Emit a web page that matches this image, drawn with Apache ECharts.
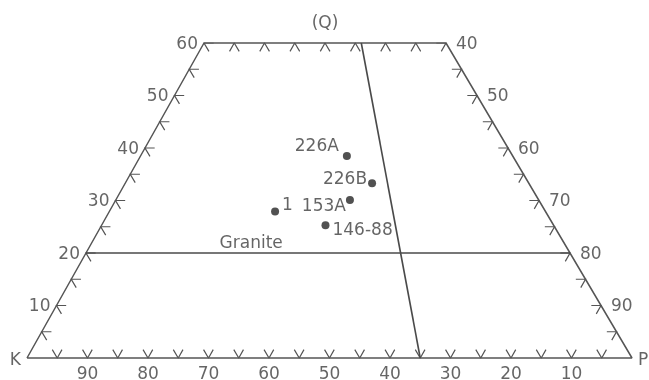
<!DOCTYPE html>
<html><head><meta charset="utf-8">
<script src="https://cdn.jsdelivr.net/npm/echarts@6/dist/echarts.min.js"></script>
<style>html,body{margin:0;padding:0;background:#fff}#c{width:649px;height:380px}</style>
</head><body><div id="c"></div>
<script>
// ---- data (ternary percentages Q / P / K) ----
const sampleNames = ['226A', '226B', '153A', '1', '146-88'];
const sampleQ = [38.5, 33.3, 30.1, 27.9, 25.3];
const sampleP = [34.1, 40.8, 38.7, 27.4, 37.0];
const sampleK = [27.4, 25.9, 31.2, 44.7, 37.7];
const qCut = 60;                 // diagram truncated at Q = 60
const tickStep = 5;
const baseTickLabels = [90, 80, 70, 60, 50, 40, 30, 20, 10];   // K along K-P side
const leftTickLabels = [10, 20, 30, 40, 50, 60];                // Q along K-Q side
const rightTickLabels = [40, 50, 60, 70, 80, 90];               // P along Q-P side
const graniteQ = 20;             // lower Q limit of granite field
const graniteLabel = 'Granite';
const divideRatio = 0.65;        // P/(P+K) boundary line

// ---- layout constants ----
const SKEW = 0.4876;             // horizontal shift of apex as fraction of base
const TICK = 1.6;                // tick arm length in % units
const FONT = 'DejaVu Sans';
const TXT = '#3f3f3f';
const LINE = '#555555';

function xy(q, p, k) { const s = q + p + k; return [(p + q * SKEW) / s * 100, q / s * 100]; }

const frame = [xy(0, 0, 100), xy(qCut, 0, 100 - qCut), xy(qCut, 100 - qCut, 0), xy(0, 100, 0), xy(0, 0, 100)];
const granite = [xy(graniteQ, 0, 100 - graniteQ), xy(graniteQ, 100 - graniteQ, 0)];
const divider = [xy(qCut, (100 - qCut) * divideRatio, (100 - qCut) * (1 - divideRatio)), xy(0, 100 * divideRatio, 100 * (1 - divideRatio))];

// ticks (chevrons = short pieces of the two internal grid lines)
const ticks = [];
const L = TICK;
for (let q = tickStep; q <= qCut; q += tickStep) {
  ticks.push({ coords: [xy(q, L, 100 - q - L), xy(q, 0, 100 - q), xy(q - L, L, 100 - q)] });
  ticks.push({ coords: [xy(q, 100 - q - L, L), xy(q, 100 - q, 0), xy(q - L, 100 - q, L)] });
}
for (let p = tickStep; p < 100; p += tickStep) {
  ticks.push({ coords: [xy(L, p, 100 - p - L), xy(0, p, 100 - p), xy(L, p - L, 100 - p)] });
}
for (let p = tickStep; p < 100 - qCut; p += tickStep) {
  ticks.push({ coords: [xy(qCut - L, p + L, 100 - qCut - p), xy(qCut, p, 100 - qCut - p), xy(qCut - L, p, 100 - qCut - p + L)] });
}

const lbl = (extra) => Object.assign({ show: true, fontFamily: FONT, fontSize: 17, color: TXT }, extra);

const baseLbl = baseTickLabels.map(k => ({ value: xy(0, 100 - k, k), label: lbl({ formatter: String(k), position: 'inside', offset: [0, 17] }) }));
const leftLbl = leftTickLabels.map(q => ({ value: xy(q, 0, 100 - q), label: lbl({ formatter: String(q), position: 'left', distance: 6, offset: [0, 1.5] }) }));
const rightLbl = rightTickLabels.map(p => ({ value: xy(100 - p, p, 0), label: lbl({ formatter: String(p), position: 'right', distance: 10, offset: [0, 1.5] }) }));
const cornerLbl = [
  { value: xy(0, 0, 100), label: lbl({ formatter: 'K', position: 'left', distance: 6, offset: [0, 3] }) },
  { value: xy(0, 100, 0), label: lbl({ formatter: 'P', position: 'right', distance: 6, offset: [0, 3] }) },
  { value: xy(qCut, (100 - qCut) / 2, (100 - qCut) / 2), label: lbl({ formatter: '(Q)', position: 'top', distance: 11 }) },
  { value: xy(graniteQ, 27.3, 100 - graniteQ - 27.3), label: lbl({ formatter: graniteLabel, position: 'top', distance: 1 }) }
];

const samplePlacement = {
  '226A': { position: 'left', distance: 4, offset: [0, -9] },
  '226B': { position: 'left', distance: 1, offset: [0, -4] },
  '153A': { position: 'left', distance: 0, offset: [0, 7] },
  '1': { position: 'right', distance: 3, offset: [0, -6] },
  '146-88': { position: 'right', distance: 3, offset: [0, 5] }
};
const samples = sampleNames.map((n, i) => ({
  name: n, value: xy(sampleQ[i], sampleP[i], sampleK[i]),
  label: lbl(Object.assign({ formatter: n }, samplePlacement[n]))
}));

const chart = echarts.init(document.getElementById('c'), null, { renderer: 'canvas' });
chart.setOption({
  animation: false,
  backgroundColor: '#ffffff',
  grid: { left: 27, right: 17, top: 43, bottom: 22 },
  xAxis: { type: 'value', min: 0, max: 100, show: false },
  yAxis: { type: 'value', min: 0, max: qCut, show: false },
  series: [
    { type: 'line', data: frame, symbol: 'none', clip: false, lineStyle: { color: LINE, width: 1.5 } },
    { type: 'line', data: granite, symbol: 'none', clip: false, lineStyle: { color: '#4a4a4a', width: 1.6 } },
    { type: 'line', data: divider, symbol: 'none', clip: false, lineStyle: { color: '#4a4a4a', width: 1.6 } },
    { type: 'lines', coordinateSystem: 'cartesian2d', polyline: true, data: ticks, lineStyle: { color: LINE, width: 1.2, opacity: 1 } },
    { type: 'scatter', data: baseLbl.concat(leftLbl, rightLbl, cornerLbl), symbolSize: 0, clip: false, silent: true },
    { type: 'scatter', data: samples, symbolSize: 8, clip: false, itemStyle: { color: '#262626' } }
  ]
});
</script></body></html>
